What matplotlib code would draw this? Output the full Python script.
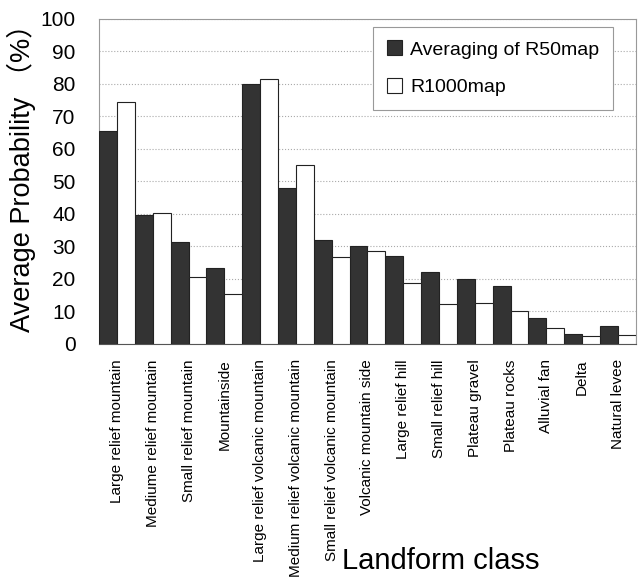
import numpy as np
import matplotlib
matplotlib.use("Agg")
import matplotlib.pyplot as plt

classes = ["Large relief mountain", "Mediume relief mountain", "Small relief mountain",
           "Mountainside", "Large relief volcanic mountain", "Medium relief volcanic mountain",
           "Small relief volcanic mountain", "Volcanic mountain side", "Large relief hill",
           "Small relief hill", "Plateau gravel", "Plateau rocks", "Alluvial fan",
           "Delta", "Natural levee"]
r50_avg = [65.5, 39.7, 31.5, 23.4, 80.0, 48.1, 32.0, 30.2, 27.0, 22.2, 20.1, 17.8, 8.0, 3.2, 5.5]
r1000 = [74.4, 40.2, 20.5, 15.5, 81.5, 54.9, 26.6, 28.6, 18.8, 12.3, 12.6, 10.1, 4.8, 2.5, 2.8]

plt.rcParams['font.family'] = ['Liberation Sans', 'Noto Sans CJK JP']

fig = plt.figure(figsize=(6.39, 5.87), dpi=100)
ax = fig.add_axes([0.155, 0.414, 0.840, 0.554])

x = np.arange(len(classes))
w = 0.5
ax.bar(x - w / 2, r50_avg, w, color='#333333', edgecolor='#222222', linewidth=0.8,
       label='Averaging of R50map', zorder=3)
ax.bar(x + w / 2, r1000, w, color='white', edgecolor='#222222', linewidth=0.8,
       label='R1000map', zorder=3)

ax.set_xlim(-0.5, len(classes) - 0.5)
ax.set_ylim(0, 100)
ax.set_yticks(range(0, 101, 10))
ax.tick_params(axis='y', labelsize=15, length=0, pad=17)
ax.set_xticks(x)
ax.set_xticklabels(classes, rotation=90, fontsize=11)
ax.tick_params(axis='x', length=0, pad=11)
ax.grid(axis='y', color='#aaaaaa', linestyle=':', linewidth=0.8, zorder=0)
for s in ax.spines.values():
    s.set_color('#999999')
ax.spines['bottom'].set_color('#555555')

ax.set_ylabel('Average Probability （%）', fontsize=19.5)
ax.yaxis.set_label_coords(-0.118, 0.53)
fig.text(0.69, 0.02, 'Landform class', fontsize=21, ha='center', va='bottom')

leg = ax.legend(loc='upper right', bbox_to_anchor=(0.975, 1.005), fontsize=14,
                handlelength=0.8, handleheight=0.8, handletextpad=0.4,
                labelspacing=1.0, borderpad=0.7, fancybox=False, framealpha=1)
leg.get_frame().set_edgecolor('#999999')
leg.get_frame().set_linewidth(0.8)

fig.savefig('out.png', dpi=100)
